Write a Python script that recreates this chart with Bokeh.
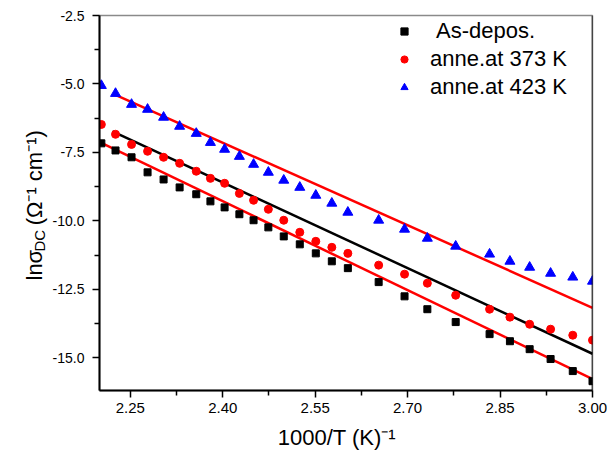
import math
import numpy as np
from bokeh.plotting import figure
from bokeh.models import (FixedTicker, PrintfTickFormatter, Legend, LegendItem,
                          Label, Span, Range1d)
from bokeh.embed import file_html
from bokeh.resources import INLINE

# ---- data -------------------------------------------------------------
inv_T = [2.203, 2.226, 2.252, 2.278, 2.304, 2.330, 2.357, 2.380, 2.403,
         2.427, 2.450, 2.474, 2.499, 2.525, 2.551, 2.577, 2.603, 2.653,
         2.695, 2.732, 2.778, 2.833, 2.866, 2.898, 2.932, 2.968, 3.000]

ln_sigma_asdep = [-7.17, -7.43, -7.68, -8.23, -8.49, -8.78, -9.03, -9.29,
                  -9.51, -9.76, -9.98, -10.24, -10.57, -10.86, -11.19,
                  -11.48, -11.73, -12.24, -12.76, -13.23, -13.70, -14.14,
                  -14.40, -14.69, -15.05, -15.49, -15.86]

ln_sigma_373 = [-6.48, -6.84, -7.21, -7.46, -7.68, -7.90, -8.19, -8.45,
                -8.63, -9.00, -9.25, -9.58, -9.98, -10.42, -10.75, -10.97,
                -11.19, -11.62, -11.95, -12.28, -12.72, -13.23, -13.52,
                -13.78, -13.96, -14.18, -14.36]

ln_sigma_423 = [-5.06, -5.35, -5.75, -5.93, -6.22, -6.55, -6.81, -7.14,
                -7.39, -7.65, -7.94, -8.23, -8.52, -8.78, -9.07, -9.36,
                -9.69, -9.98, -10.31, -10.64, -10.93, -11.22, -11.48,
                -11.70, -11.92, -12.06, -12.21]

series_labels = ["\u00a0As-depos.", "anne.at 373 K", "anne.at 423 K"]

# linear fits: ln(sigma) = slope * (1000/T) + intercept
fit_slope = [-10.83, -10.43, -10.05]
fit_intercept = [16.707, 16.432, 16.972]
fit_x_start = [2.203, 2.221, 2.224]
fit_x_end = [2.997, 3.000, 3.000]

x_ticks = [2.25, 2.40, 2.55, 2.70, 2.85, 3.00]
x_minor = [2.175, 2.325, 2.475, 2.625, 2.775, 2.925]
y_ticks = [-2.5, -5.0, -7.5, -10.0, -12.5, -15.0]
y_minor = [-3.75, -6.25, -8.75, -11.25, -13.75, -16.25]

# ---- figure -----------------------------------------------------------
X0, X1 = 2.2, 3.0
Y0, Y1 = -16.2, -2.5
W, H = 607, 453
FL, FR, FT, FB = 99, 592, 15, 390

p = figure(width=W, height=H, output_backend="svg", toolbar_location=None,
           x_range=Range1d(X0, X1), y_range=Range1d(Y0, Y1),
           min_border_left=FL, min_border_right=W - FR,
           min_border_top=FT, min_border_bottom=H - FB)
p.background_fill_color = "white"
p.border_fill_color = "white"
p.outline_line_color = "#8a8a8a"
p.outline_line_width = 1.5
p.xgrid.visible = False
p.ygrid.visible = False

FONT = "Liberation Sans"

for ax, ticks, minor, fmt, fs, stand in (
        (p.xaxis[0], x_ticks, x_minor, "%.2f", "15px", 5),
        (p.yaxis[0], y_ticks, y_minor, "%.1f", "14px", 8)):
    ax.ticker = FixedTicker(ticks=ticks, minor_ticks=minor)
    ax.formatter = PrintfTickFormatter(format=fmt)
    ax.axis_line_color = "black"
    ax.axis_line_width = 2
    ax.major_tick_line_color = "black"
    ax.major_tick_line_width = 1.5
    ax.minor_tick_line_color = "black"
    ax.minor_tick_line_width = 1.5
    ax.major_tick_in = 0
    ax.major_tick_out = 7
    ax.minor_tick_in = 0
    ax.minor_tick_out = 5
    ax.major_label_text_font = FONT
    ax.major_label_text_font_size = fs
    ax.major_label_text_color = "black"
    ax.major_label_standoff = stand

# x title; trailing no-break spaces nudge the centred title a little left
NB = "\u00a0"
p.xaxis[0].axis_label = "1000/T (K)\u207b\u00b9" + NB * 3
p.xaxis[0].axis_label_text_font = FONT
p.xaxis[0].axis_label_text_font_size = "22px"
p.xaxis[0].axis_label_text_font_style = "normal"
p.xaxis[0].axis_label_text_color = "black"
p.xaxis[0].axis_label_standoff = 9

# right border drawn in black
p.add_layout(Span(location=X1, dimension="height", line_color="black",
                  line_width=1.5))

# fitted lines
fit_colors = ["red", "black", "red"]
for s, b, xa, xb, c in zip(fit_slope, fit_intercept, fit_x_start,
                           fit_x_end, fit_colors):
    xs = np.array([xa, xb])
    p.line(xs, s * xs + b, line_color=c, line_width=2.5)

# measured points
r_sq = p.scatter(inv_T, ln_sigma_asdep, marker="square", size=7,
                 fill_color="black", line_color="black")
r_ci = p.scatter(inv_T, ln_sigma_373, marker="circle", size=8,
                 fill_color="red", line_color="red")
r_tr = p.scatter(inv_T, ln_sigma_423, marker="triangle", size=10,
                 fill_color="blue", line_color="blue")

legend = Legend(items=[LegendItem(label=series_labels[0], renderers=[r_sq]),
                       LegendItem(label=series_labels[1], renderers=[r_ci]),
                       LegendItem(label=series_labels[2], renderers=[r_tr])],
                location=(296, 290), padding=0, margin=0, spacing=2,
                glyph_width=18, glyph_height=18, label_height=22,
                label_standoff=17, label_text_font=FONT,
                label_text_font_size="22px", label_text_color="black",
                border_line_alpha=0, background_fill_alpha=0)
p.add_layout(legend)


# ---- y title ------------------------------------------------------------
# Labels live in the left panel so they are not clipped by the frame;
# their anchors are given in data units derived from pixel offsets.
def dx(px):
    return X0 + (px - FL) * (X1 - X0) / (FR - FL)


def dy(py):
    return Y1 - (py - FT) * (Y1 - Y0) / (FB - FT)


def put(text, px, py, size, side, angle=0.0):
    p.add_layout(Label(x=dx(px), y=dy(py), text=text, angle=angle,
                       text_font=FONT, text_font_size=f"{size}px",
                       text_color="black", text_align="left",
                       text_baseline="alphabetic"), side)


rot = math.pi / 2
put("lnσ" + NB * 4 + "(Ω\u207b\u00b9 cm\u207b\u00b9)", 34, 280, 22, "left", rot)
put("DC", 39, 251, 15, "left", rot)

open("out.html", "w").write(file_html(p, INLINE))
